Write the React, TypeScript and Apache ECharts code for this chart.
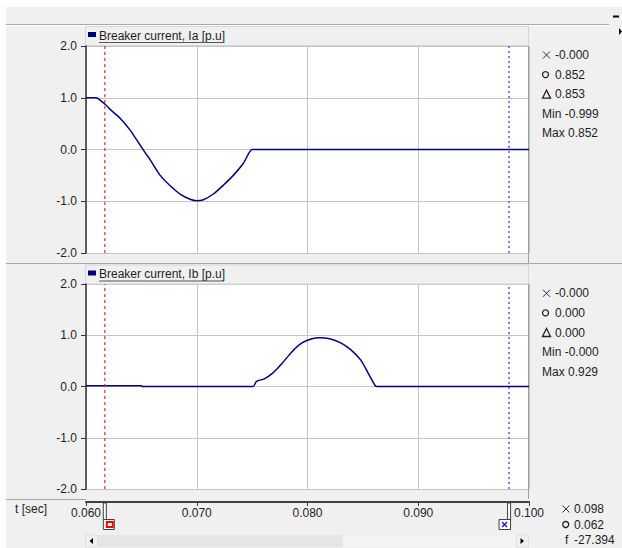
import React, { useEffect, useRef } from "react";
import * as echarts from "echarts";

// Breaker current Ia [p.u]
const iaTime = [0.06, 0.0609, 0.0613, 0.0618, 0.0622, 0.0631, 0.064, 0.0649, 0.0654, 0.0658, 0.0667, 0.0676, 0.0685, 0.0694, 0.07, 0.0706, 0.0715, 0.0724, 0.0733, 0.0742, 0.075, 0.0753, 0.1];
const iaValue = [1.0, 1.0, 0.95, 0.86, 0.77, 0.6, 0.37, 0.08, -0.08, -0.2, -0.5, -0.7, -0.86, -0.96, -0.99, -0.97, -0.86, -0.69, -0.5, -0.27, 0.0, 0.0, 0.0];

// Breaker current Ib [p.u]
const ibTime = [0.06, 0.0649, 0.065, 0.0651, 0.0748, 0.0751, 0.0754, 0.0761, 0.0768, 0.0777, 0.0786, 0.0795, 0.0804, 0.0811, 0.082, 0.083, 0.0839, 0.0848, 0.0855, 0.0861, 0.0863, 0.0866, 0.1];
const ibValue = [0.015, 0.015, 0.015, 0.0, 0.0, 0.0, 0.1, 0.15, 0.25, 0.45, 0.68, 0.85, 0.93, 0.95, 0.93, 0.85, 0.72, 0.52, 0.25, 0.02, 0.0, 0.0, 0.0];

const timeMin = 0.06;
const timeMax = 0.1;
const timeStep = 0.01;
const yMin = -2;
const yMax = 2;
const yStep = 1;

const cursorO = 0.0617;
const cursorX = 0.0982;

const iaTitle = "Breaker current, Ia [p.u]";
const ibTitle = "Breaker current, Ib [p.u]";
const iaReadouts = ["-0.000", "0.852", "0.853"];
const iaMinMax = ["Min -0.999", "Max 0.852"];
const ibReadouts = ["-0.000", "0.000", "0.000"];
const ibMinMax = ["Min -0.000", "Max 0.929"];
const timeReadouts = ["0.098", "0.062", "-27.394"];
const timeLabel = "t [sec]";

const FONT = '"Liberation Sans", Arial, sans-serif';
const TXT = "#1e1e1e";
const GRID_C = "#c4c4c4";
const LINE_C = "#000080";

function zip(a: number[], b: number[]) {
  return a.map((t, i) => [t, b[i]]);
}

function text(x: number, y: number, s: string, extra: any = {}) {
  return {
    type: "text",
    x,
    y,
    silent: true,
    style: { text: s, fill: TXT, fontSize: 12, fontFamily: FONT, verticalAlign: "middle", align: "left", ...extra },
  };
}

function crossSym(cx: number, cy: number) {
  return [
    { type: "line", silent: true, shape: { x1: cx - 3.5, y1: cy - 3.5, x2: cx + 3.5, y2: cy + 3.5 }, style: { stroke: "#333", lineWidth: 1 } },
    { type: "line", silent: true, shape: { x1: cx - 3.5, y1: cy + 3.5, x2: cx + 3.5, y2: cy - 3.5 }, style: { stroke: "#333", lineWidth: 1 } },
  ];
}
function circleSym(cx: number, cy: number) {
  return { type: "circle", silent: true, shape: { cx, cy, r: 3 }, style: { stroke: "#222", lineWidth: 1.3, fill: "none" } };
}
function triSym(cx: number, cy: number) {
  return {
    type: "polygon",
    silent: true,
    shape: { points: [[cx - 4, cy + 4], [cx, cy - 4], [cx + 4, cy + 4]] },
    style: { stroke: "#222", lineWidth: 1.3, fill: "none" },
  };
}

function readoutPanel(top: number, vals: string[], mm: string[]) {
  const step = 19.6;
  return [
    ...crossSym(546.5, top),
    text(555, top, vals[0]),
    circleSym(545.5, top + step),
    text(555, top + step, vals[1]),
    triSym(546.5, top + 2 * step),
    text(555, top + 2 * step, vals[2]),
    text(542, top + 3 * step, mm[0]),
    text(542, top + 4 * step, mm[1]),
  ];
}

function header(y: number, title: string) {
  return [
    { type: "rect", silent: true, shape: { x: 85.5, y: y, width: 443, height: 19 }, style: { fill: "#f0f0f0", stroke: "#d6d6d6", lineWidth: 1 } },
    { type: "rect", silent: true, shape: { x: 88, y: y + 5.5, width: 8, height: 5 }, style: { fill: LINE_C } },
    text(99, y + 9, title),
    { type: "line", silent: true, shape: { x1: 99, y1: y + 16, x2: 224, y2: y + 16 }, style: { stroke: "#555", lineWidth: 1 } },
  ];
}

function cursorSeries(gridIdx: number, t: number, color: string, dash: number[], width: number) {
  return {
    type: "line",
    xAxisIndex: gridIdx,
    yAxisIndex: gridIdx,
    data: [[t, yMin], [t, yMax]],
    showSymbol: false,
    symbol: "none",
    silent: true,
    z: 3,
    lineStyle: { color, type: dash, width },
  };
}

export default function App() {
  const ref = useRef<HTMLDivElement>(null);
  useEffect(() => {
    const chart = echarts.init(ref.current!, null, { renderer: "svg" });
    const grid = (top: number, height: number, bg = true) => ({
      left: 86,
      width: 443,
      top,
      height,
      show: bg,
      backgroundColor: "#ffffff",
      borderWidth: 0,
    });
    const plotX = (i: number) => ({
      type: "value",
      gridIndex: i,
      min: timeMin,
      max: timeMax,
      interval: timeStep,
      axisLine: { show: false },
      axisTick: { show: false },
      axisLabel: { show: false },
      splitLine: { show: true, lineStyle: { color: GRID_C, width: 1 } },
    });
    const plotY = (i: number) => ({
      type: "value",
      gridIndex: i,
      min: yMin,
      max: yMax,
      interval: yStep,
      axisLine: { show: true, lineStyle: { color: "#333", width: 1.5 } },
      axisTick: { show: true, length: 5, lineStyle: { color: "#333" } },
      axisLabel: {
        margin: 9,
        fontSize: 12,
        fontFamily: FONT,
        color: TXT,
        formatter: (v: number) => v.toFixed(1),
      },
      splitLine: { show: true, lineStyle: { color: GRID_C, width: 1 } },
    });
    const curve = (i: number, t: number[], v: number[]) => ({
      type: "line",
      xAxisIndex: i,
      yAxisIndex: i,
      data: zip(t, v),
      showSymbol: false,
      symbol: "none",
      smooth: 0.25,
      z: 2,
      lineStyle: { color: LINE_C, width: 1.5 },
    });
    chart.setOption({
      animation: false,
      backgroundColor: "transparent",
      grid: [grid(46, 207), grid(284, 205), grid(501, 1, false)],
      xAxis: [
        plotX(0),
        plotX(1),
        {
          type: "value",
          gridIndex: 2,
          min: timeMin,
          max: timeMax,
          interval: timeStep,
          axisLine: { show: true, lineStyle: { color: "#404040", width: 2 } },
          axisTick: { show: true, length: 4, lineStyle: { color: "#404040" } },
          axisLabel: {
            margin: 5,
            fontSize: 12,
            fontFamily: FONT,
            color: TXT,
            showMinLabel: true,
            showMaxLabel: true,
            formatter: (v: number) => v.toFixed(3),
          },
          splitLine: { show: false },
        },
      ],
      yAxis: [plotY(0), plotY(1), { type: "value", gridIndex: 2, show: false, min: 0, max: 1 }],
      series: [
        curve(0, iaTime, iaValue),
        curve(1, ibTime, ibValue),
        cursorSeries(0, cursorO, "#ff2020", [3, 3], 1.2),
        cursorSeries(0, cursorX, "#4a4aff", [2, 3], 1.4),
        cursorSeries(1, cursorO, "#ff2020", [3, 3], 1.2),
        cursorSeries(1, cursorX, "#4a4aff", [2, 3], 1.4),
      ],
    });

    const pO = chart.convertToPixel({ xAxisIndex: 2 }, cursorO) as number;
    const pX = chart.convertToPixel({ xAxisIndex: 2 }, cursorX) as number;

    const elements: any[] = [
      // white outer margins
      { type: "rect", silent: true, z: -1, shape: { x: 0, y: 0, width: 622, height: 7 }, style: { fill: "#ffffff" } },
      { type: "rect", silent: true, z: -1, shape: { x: 0, y: 0, width: 6, height: 548 }, style: { fill: "#ffffff" } },
      // top strip
      { type: "line", silent: true, shape: { x1: 6, y1: 24.5, x2: 609, y2: 24.5 }, style: { stroke: "#a8a8a8", lineWidth: 1 } },
      { type: "line", silent: true, shape: { x1: 6, y1: 25.5, x2: 609, y2: 25.5 }, style: { stroke: "#ffffff", lineWidth: 1 } },
      { type: "line", silent: true, shape: { x1: 613, y1: 16.5, x2: 619, y2: 16.5 }, style: { stroke: "#000", lineWidth: 2 } },
      { type: "polygon", silent: true, shape: { points: [[619, 28], [622, 31.5], [619, 35]] }, style: { fill: "#000" } },
      // panel separators
      { type: "line", silent: true, shape: { x1: 6, y1: 263.5, x2: 622, y2: 263.5 }, style: { stroke: "#a8a8a8", lineWidth: 1 } },
      { type: "line", silent: true, shape: { x1: 528.5, y1: 26, x2: 528.5, y2: 263 }, style: { stroke: "#a0a0a0", lineWidth: 1 } },
      { type: "line", silent: true, shape: { x1: 528.5, y1: 265, x2: 528.5, y2: 499 }, style: { stroke: "#a0a0a0", lineWidth: 1 } },
      { type: "line", silent: true, shape: { x1: 6, y1: 499.5, x2: 86, y2: 499.5 }, style: { stroke: "#a8a8a8", lineWidth: 1 } },
      ...header(26.5, iaTitle),
      ...header(265, ibTitle),
      ...readoutPanel(55, iaReadouts, iaMinMax),
      ...readoutPanel(293.3, ibReadouts, ibMinMax),
      // time readouts
      text(15, 509, timeLabel),
      ...crossSym(566, 509),
      text(574, 509, timeReadouts[0]),
      circleSym(565.7, 524.5),
      text(574, 524.5, timeReadouts[1]),
      text(565, 540, "f"),
      text(574, 540, timeReadouts[2]),
      // scroll bar
      { type: "rect", silent: true, shape: { x: 85.5, y: 535, width: 443, height: 12 }, style: { fill: "#e6e6e6" } },
      { type: "rect", silent: true, shape: { x: 343, y: 535, width: 174, height: 12 }, style: { fill: "#f3f3f3" } },
      { type: "rect", silent: true, shape: { x: 85.5, y: 535, width: 12, height: 12 }, style: { fill: "#f0f0f0", stroke: "#e0e0e0" } },
      { type: "polygon", silent: true, shape: { points: [[93, 538], [89.5, 541], [93, 544]] }, style: { fill: "#000" } },
      { type: "rect", silent: true, shape: { x: 516.5, y: 535, width: 12, height: 12 }, style: { fill: "#f0f0f0", stroke: "#e0e0e0" } },
      { type: "polygon", silent: true, shape: { points: [[520.5, 538], [524, 541], [520.5, 544]] }, style: { fill: "#000" } },
      // cursor O handle (red)
      { type: "rect", silent: true, shape: { x: pO - 1.5, y: 503, width: 3, height: 17 }, style: { fill: "#ffffff", stroke: "#404040", lineWidth: 1 } },
      { type: "rect", silent: true, shape: { x: pO - 1.5, y: 519.5, width: 11, height: 10 }, style: { fill: "#ffffff", stroke: "#404040", lineWidth: 1 } },
      { type: "rect", silent: true, shape: { x: pO + 2, y: 522, width: 6, height: 5 }, style: { fill: "#ffffff", stroke: "#ff0000", lineWidth: 2 } },
      // cursor X handle (blue)
      { type: "rect", silent: true, shape: { x: pX - 1.5, y: 503, width: 3, height: 17 }, style: { fill: "#ffffff", stroke: "#404040", lineWidth: 1 } },
      { type: "rect", silent: true, shape: { x: pX - 10, y: 519.5, width: 11.5, height: 10 }, style: { fill: "#ffffff", stroke: "#404040", lineWidth: 1 } },
      { type: "line", silent: true, shape: { x1: pX - 7, y1: 522, x2: pX - 2, y2: 527 }, style: { stroke: "#2020ff", lineWidth: 1.5 } },
      { type: "line", silent: true, shape: { x1: pX - 7, y1: 527, x2: pX - 2, y2: 522 }, style: { stroke: "#2020ff", lineWidth: 1.5 } },
    ];
    chart.setOption({ graphic: { elements } });

    return () => chart.dispose();
  }, []);

  return (
    <div
      ref={ref}
      style={{ position: "fixed", left: 0, top: 0, width: 622, height: 548, background: "#f0f0f0" }}
    />
  );
}
